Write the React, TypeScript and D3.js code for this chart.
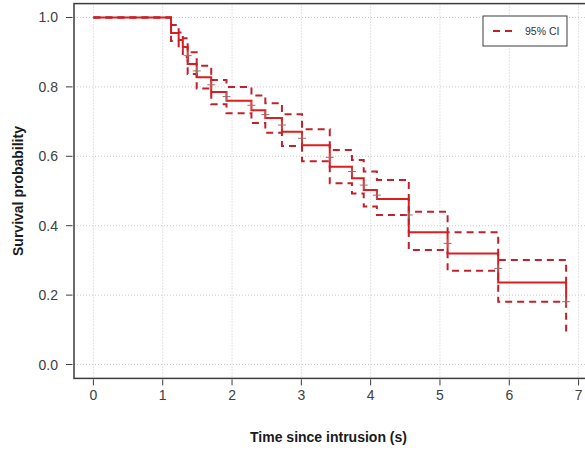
import React from "react";
import * as d3 from "d3";

// Kaplan–Meier estimate: event times and survival after each drop
const eventTimes = [1.12, 1.23, 1.29, 1.36, 1.49, 1.7, 1.92, 2.28, 2.48, 2.72, 3.01, 3.41, 3.73, 3.9, 4.09, 4.55, 5.11, 5.84, 6.82];
const survival = [0.955, 0.935, 0.915, 0.866, 0.828, 0.785, 0.76, 0.733, 0.71, 0.671, 0.632, 0.57, 0.537, 0.503, 0.477, 0.381, 0.32, 0.236, 0.177];
const upperCI = [0.978, 0.957, 0.94, 0.9, 0.861, 0.82, 0.8, 0.775, 0.753, 0.721, 0.678, 0.618, 0.589, 0.556, 0.532, 0.44, 0.381, 0.301, 0.23];
const lowerCI = [0.932, 0.91, 0.886, 0.837, 0.795, 0.75, 0.724, 0.696, 0.668, 0.63, 0.586, 0.522, 0.493, 0.455, 0.431, 0.33, 0.27, 0.181, 0.095];

// Tick marks drawn on the curve
const markTimes = [1.36, 1.49, 1.7, 1.92, 2.28, 2.48, 2.72, 3.01, 3.41, 3.73, 3.9, 4.09, 4.55, 5.11, 5.84, 6.82];
const markLevels = [0.89, 0.846, 0.806, 0.772, 0.747, 0.72, 0.69, 0.652, 0.597, 0.556, 0.517, 0.488, 0.431, 0.349, 0.277, 0.181];

const xTicks = [0, 1, 2, 3, 4, 5, 6, 7];
const yTicks = [0, 0.2, 0.4, 0.6, 0.8, 1.0];

const W = 585;
const H = 452;
const FONT = "'Liberation Sans', Arial, sans-serif";

export default function App() {
  const x = d3.scaleLinear().domain([-0.28, 7.28]).range([74, 598]);
  const y = d3.scaleLinear().domain([-0.04, 1.04]).range([378.4, 3.6]);

  const step = d3
    .line<[number, number]>()
    .x((d) => x(d[0]))
    .y((d) => y(d[1]))
    .curve(d3.curveStepAfter);

  const series = (vals: number[]): [number, number][] => [
    [0, 1],
    ...eventTimes.map((t, i) => [t, vals[i]] as [number, number]),
  ];

  const plotLeft = x.range()[0];
  const plotRight = x.range()[1];
  const plotTop = y.range()[1];
  const plotBottom = y.range()[0];

  const solid = "#dc1e1e";
  const dashed = "#c3202b";

  return (
    <svg
      width={W}
      height={H}
      style={{ position: "absolute", left: 0, top: 0, background: "#fff" }}
      fontFamily={FONT}
    >
      <rect x={0} y={0} width={W} height={H} fill="#fff" />

      {/* grid */}
      <g stroke="#c9c9c9" strokeWidth={1} strokeDasharray="1,2">
        {xTicks.map((t) => (
          <line key={"gx" + t} x1={x(t)} x2={x(t)} y1={plotTop} y2={plotBottom} />
        ))}
        {yTicks.map((t) => (
          <line key={"gy" + t} x1={plotLeft} x2={plotRight} y1={y(t)} y2={y(t)} />
        ))}
      </g>

      {/* survival curve */}
      <path d={step(series(survival)) || ""} fill="none" stroke={solid} strokeWidth={2} />

      {/* confidence bounds */}
      <path d={step(series(upperCI)) || ""} fill="none" stroke={dashed} strokeWidth={2} strokeDasharray="7,5" />
      <path d={step(series(lowerCI)) || ""} fill="none" stroke={dashed} strokeWidth={2} strokeDasharray="7,5" />

      {/* marks */}
      <g stroke="#a06a6a" strokeWidth={1}>
        {markTimes.map((t, i) => (
          <g key={"m" + i}>
            <line x1={x(t) - 4} x2={x(t) + 4} y1={y(markLevels[i])} y2={y(markLevels[i])} />
            <line x1={x(t)} x2={x(t)} y1={y(markLevels[i]) - 4} y2={y(markLevels[i]) + 4} />
          </g>
        ))}
      </g>

      {/* plot frame */}
      <rect
        x={plotLeft}
        y={plotTop}
        width={plotRight - plotLeft}
        height={plotBottom - plotTop}
        fill="none"
        stroke="#3c3c3c"
        strokeWidth={1.5}
      />

      {/* x axis */}
      <g stroke="#3c3c3c" strokeWidth={1}>
        {xTicks.map((t) => (
          <line key={"tx" + t} x1={x(t)} x2={x(t)} y1={plotBottom + 1} y2={plotBottom + 7} />
        ))}
        {yTicks.map((t) => (
          <line key={"ty" + t} x1={plotLeft - 8} x2={plotLeft - 1.5} y1={y(t)} y2={y(t)} />
        ))}
      </g>
      <g fill="#404040" fontSize={14}>
        {xTicks.map((t) => (
          <text key={"lx" + t} x={x(t)} y={400} textAnchor="middle">
            {t}
          </text>
        ))}
        {yTicks.map((t) => (
          <text key={"ly" + t} x={58} y={y(t) + 5} textAnchor="end">
            {t.toFixed(1)}
          </text>
        ))}
      </g>

      {/* axis titles */}
      <text x={328.5} y={442} textAnchor="middle" fontSize={14} fontWeight="bold" fill="#1a1a1a">
        Time since intrusion (s)
      </text>
      <text
        transform={`translate(23, ${(plotTop + plotBottom) / 2}) rotate(-90)`}
        textAnchor="middle"
        fontSize={14}
        fontWeight="bold"
        fill="#1a1a1a"
      >
        Survival probability
      </text>

      {/* legend */}
      <rect x={483} y={16} width={84} height={30} fill="#fff" stroke="#3c3c3c" strokeWidth={1} />
      <line x1={493} x2={514} y1={31} y2={31} stroke={dashed} strokeWidth={2} strokeDasharray="7,5" />
      <text x={525} y={35} fontSize={10.5} fill="#333">
        95% CI
      </text>
    </svg>
  );
}
